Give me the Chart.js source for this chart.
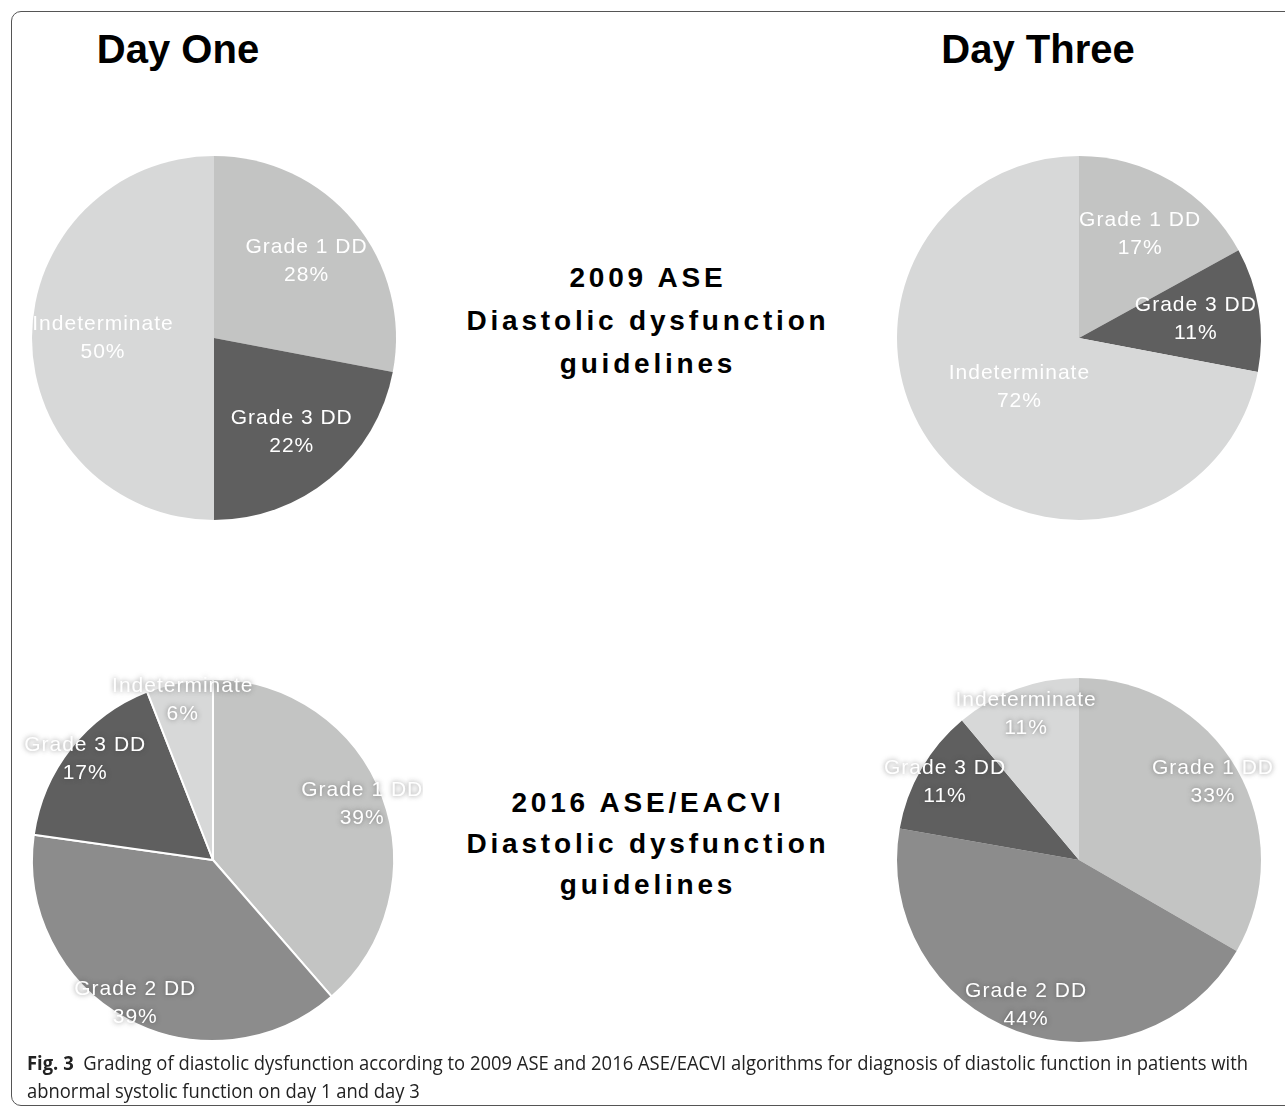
<!DOCTYPE html>
<html lang="en">
<head>
    <meta charset="UTF-8">
    <title>Grading of diastolic dysfunction</title>
    <script src="https://cdn.jsdelivr.net/npm/chart.js"></script>
    <style>
        html, body { margin: 0; padding: 0; background: #fff; overflow: hidden; }
        body { width: 1285px; height: 1107px; position: relative; }
        .frame {
            position: absolute; left: 11px; top: 11px; width: 1320px; height: 1093px;
            border: 1.5px solid #555; border-radius: 10px;
        }
        .title {
            position: absolute; top: 29px; width: 300px; text-align: center;
            font: bold 40px "Liberation Sans", Arial, sans-serif; line-height: 40px; color: #000;
        }
        .guide {
            position: absolute; left: 448px; width: 400px; text-align: center;
            font: bold 28px "Liberation Sans", Arial, sans-serif; letter-spacing: 3.8px; color: #000;
        }
        .pie { position: absolute; width: 420px; height: 420px; }
        .caption {
            position: absolute; left: 27px; top: 1049px; white-space: nowrap;
            font: 20px "Open Sans", sans-serif; line-height: 28px; color: #222;
            transform-origin: 0 0;
        }
        .caption b { font-weight: 700; }
    </style>
</head>
<body>
    <div class="frame"></div>

    <div class="title" style="left: 28px;">Day One</div>
    <div class="title" style="left: 888px;">Day Three</div>

    <div class="guide" style="top: 256px; line-height: 43px;">2009 ASE<br>Diastolic dysfunction<br>guidelines</div>
    <div class="guide" style="top: 782px; line-height: 41px;">2016 ASE/EACVI<br>Diastolic dysfunction<br>guidelines</div>

    <div class="pie" style="left: 4px; top: 128px;"><canvas id="pieDay1Ase2009" width="420" height="420"></canvas></div>
    <div class="pie" style="left: 869px; top: 128px;"><canvas id="pieDay3Ase2009" width="420" height="420"></canvas></div>
    <div class="pie" style="left: 3px; top: 650px;"><canvas id="pieDay1Ase2016" width="420" height="420"></canvas></div>
    <div class="pie" style="left: 869px; top: 650px;"><canvas id="pieDay3Ase2016" width="420" height="420"></canvas></div>

    <div class="caption" id="caption"><span id="capLine1"><b>Fig. 3</b>&nbsp; Grading of diastolic dysfunction according to 2009 ASE and 2016 ASE/EACVI algorithms for diagnosis of diastolic function in patients with</span><br>abnormal systolic function on day 1 and day 3</div>

    <script>
        // values in percent
        const ase2009Labels = ['Grade 1 DD', 'Grade 3 DD', 'Indeterminate'];
        const day1Ase2009 = [28, 22, 50];
        const day3Ase2009 = [17, 11, 72];

        const ase2016Labels = ['Grade 1 DD', 'Grade 2 DD', 'Grade 3 DD', 'Indeterminate'];
        const day1Ase2016 = [39, 39, 17, 6];
        const day3Ase2016 = [33, 44, 11, 11];

        const gradeColors = {
            'Grade 1 DD': '#c3c4c3',
            'Grade 2 DD': '#8c8c8c',
            'Grade 3 DD': '#5f5f5f',
            'Indeterminate': '#d7d8d8'
        };

        // white two-line labels (name + percent) placed along each slice's mid angle
        const sliceLabels = {
            id: 'sliceLabels',
            afterDatasetsDraw(chart, args, opts) {
                const ctx = chart.ctx;
                const meta = chart.getDatasetMeta(0);
                const values = chart.data.datasets[0].data;
                ctx.save();
                ctx.font = '21px "Liberation Sans", Arial, sans-serif';
                ctx.letterSpacing = '1px';
                ctx.fillStyle = '#fff';
                ctx.textAlign = 'center';
                ctx.textBaseline = 'middle';
                if (opts.glow) {
                    ctx.shadowColor = 'rgba(60, 60, 60, 0.6)';
                    ctx.shadowBlur = 5;
                }
                meta.data.forEach((arc, i) => {
                    const p = arc.getProps(['x', 'y', 'startAngle', 'endAngle', 'outerRadius'], true);
                    const mid = (p.startAngle + p.endAngle) / 2;
                    const r = opts.radius[i] * p.outerRadius;
                    const lx = p.x + Math.cos(mid) * r;
                    const ly = p.y + Math.sin(mid) * r;
                    ctx.fillText(chart.data.labels[i], lx, ly - 14);
                    ctx.fillText(values[i] + '%', lx, ly + 14);
                });
                ctx.restore();
            }
        };

        function makePie(id, labels, values, labelRadius, border, glow) {
            const ctx = document.getElementById(id).getContext('2d');
            return new Chart(ctx, {
                type: 'pie',
                data: {
                    labels: labels,
                    datasets: [{
                        data: values,
                        backgroundColor: labels.map(l => gradeColors[l]),
                        borderColor: '#fff',
                        borderWidth: border
                    }]
                },
                options: {
                    responsive: false,
                    animation: false,
                    layout: { padding: 28 },
                    plugins: {
                        legend: { display: false },
                        tooltip: { enabled: false },
                        sliceLabels: { radius: labelRadius, glow: glow }
                    }
                },
                plugins: [sliceLabels]
            });
        }

        makePie('pieDay1Ase2009', ase2009Labels, day1Ase2009, [0.66, 0.67, 0.61], 0, false);
        makePie('pieDay3Ase2009', ase2009Labels, day3Ase2009, [0.66, 0.65, 0.425], 0, false);
        makePie('pieDay1Ase2016', ase2016Labels, day1Ase2016, [0.88, 0.9, 0.9, 0.9], 2, true);
        makePie('pieDay3Ase2016', ase2016Labels, day3Ase2016, [0.85, 0.85, 0.85, 0.85], 0, true);

        // squeeze the caption horizontally so the first line ends where the figure's does
        const line1 = document.getElementById('capLine1');
        const w = line1.getBoundingClientRect().width;
        document.getElementById('caption').style.transform = 'scaleX(' + (1221 / w) + ')';
    </script>
</body>
</html>
